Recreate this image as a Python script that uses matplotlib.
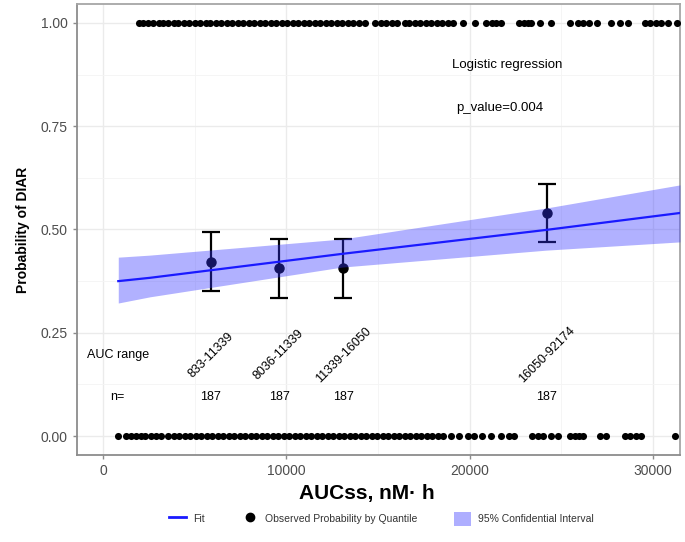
import matplotlib
matplotlib.use("Agg")
import matplotlib.pyplot as plt
from matplotlib.lines import Line2D
from matplotlib.patches import Patch

plt.rcParams['font.family'] = ['Liberation Sans', 'DejaVu Sans']

# Observed events (DIAR = 1) and non-events (DIAR = 0), AUCss positions
obs1_x = [1960, 2200, 2450, 2700, 3055, 3270, 3550, 3870,
          4090, 4400, 4700, 5000, 5300, 5620,
          5840, 6140, 6440, 6740, 7040, 7340, 7640, 7940, 8240, 8540, 8840,
          9140, 9440, 9740, 10040, 10340, 10640, 10940, 11240, 11540, 11840,
          12140, 12440, 12740, 13040, 13340, 13640, 13940, 14290,
          14840, 15140, 15440, 15740, 16040, 16470,
          16690, 16990, 17290, 17590, 17890, 18190, 18500, 18820,
          19090, 19640, 20290, 20890, 21200, 21450, 21710,
          22690, 22950, 23200, 23350, 23840, 24440,
          25470, 25910, 26200, 26500, 26950, 27710, 28200, 28640,
          29560, 29850, 30150, 30450, 30820, 31310]
obs0_x = [820, 1250, 1500, 1800, 2070, 2290, 2600, 2900, 3160,
          3550, 3850, 4150, 4450, 4750, 5050, 5350, 5650, 5950, 6250, 6550,
          6850, 7150, 7450, 7750, 8050, 8350, 8650, 8950, 9250, 9550, 9850,
          10150, 10450, 10750, 11050, 11350, 11650, 11950, 12250, 12550,
          12850, 13150, 13450, 13750, 14050, 14350, 14650, 14950,
          15250, 15550, 15850, 16150, 16450, 16750, 17050, 17350, 17650,
          17950, 18250, 18550, 18980,
          19420, 19910, 20240, 20670, 21160, 21710, 22150, 22420,
          23400, 23700, 24000, 24440, 24820,
          25470, 25750, 25950, 26180, 27110, 27440,
          28470, 28750, 29050, 29350, 31200]

# Quantile summaries
q_x = [5890, 9600, 13100, 24200]
q_p = [0.421, 0.407, 0.407, 0.540]
q_lo = [0.351, 0.334, 0.334, 0.470]
q_hi = [0.494, 0.477, 0.477, 0.610]
q_range = ["833-11339", "8036-11339", "11339-16050", "16050-92174"]
q_n = ["187", "187", "187", "187"]

# Fitted logistic curve with 95% CI
fit_x = [833, 2560, 13040, 24170, 31470]
fit_p = [0.375, 0.383, 0.441, 0.499, 0.540]
fit_lo = [0.322, 0.337, 0.409, 0.450, 0.470]
fit_hi = [0.433, 0.438, 0.477, 0.552, 0.608]

fig = plt.figure(figsize=(6.85, 5.42), dpi=100)
ax = fig.add_axes([77/685, 1-455/542, (680-77)/685, (455-4)/542])

ax.set_xlim(-1418, 31470)
ax.set_ylim(-0.046, 1.046)
ax.set_xticks([0, 10000, 20000, 30000])
ax.set_xticks([5000, 15000, 25000], minor=True)
ax.set_yticks([0, 0.25, 0.5, 0.75, 1.0])
ax.set_yticks([0.125, 0.375, 0.625, 0.875], minor=True)
ax.set_yticklabels(["0.00", "0.25", "0.50", "0.75", "1.00"])
ax.grid(which='major', color='#ebebeb', linewidth=1.0, zorder=0)
ax.grid(which='minor', color='#f4f4f4', linewidth=0.6, zorder=0)
ax.set_axisbelow(True)
ax.tick_params(which='minor', length=0)
ax.tick_params(which='major', length=3, width=1, color='#8c8c8c',
               labelcolor='#4d4d4d', labelsize=10)
for side, sp in ax.spines.items():
    sp.set_color('#a6a6a6' if side in ('top', 'right') else '#8c8c8c')
    sp.set_linewidth(1.3)

ax.scatter(obs1_x, [1.0]*len(obs1_x), s=26, color='black', linewidths=0, zorder=3)
ax.scatter(obs0_x, [0.0]*len(obs0_x), s=26, color='black', linewidths=0, zorder=3)

ax.errorbar(q_x, q_p, yerr=[[p - l for p, l in zip(q_p, q_lo)],
                            [h - p for p, h in zip(q_p, q_hi)]],
            fmt='o', color='black', markersize=6.5, elinewidth=1.6,
            capsize=6.5, capthick=1.6, zorder=3)

ax.fill_between(fit_x, fit_lo, fit_hi, color='#3333ff', alpha=0.38,
                linewidth=0, zorder=4)
ax.plot(fit_x, fit_p, color='#1a1aff', linewidth=1.6, zorder=5)

ax.text(800, 0.196, "AUC range", fontsize=9, ha='center', va='center')
ax.text(800, 0.094, "n=", fontsize=9, ha='center', va='center')
for x, r, n in zip(q_x, q_range, q_n):
    ax.text(x, 0.196, r, fontsize=9, ha='center', va='center',
            rotation=45, rotation_mode='anchor')
    ax.text(x, 0.094, n, fontsize=9, ha='center', va='center')

ax.text(22040, 0.898, "Logistic regression", fontsize=9.5, ha='center', va='center')
ax.text(21660, 0.794, "p_value=0.004", fontsize=9.5, ha='center', va='center')

ax.set_ylabel("Probability of DIAR", fontsize=10, fontweight='bold', labelpad=8)
fig.text(367/685, 1-493/542, "AUCss, nM\u00b7 h", fontsize=15,
         fontweight='bold', ha='center', va='center')

handles = [Line2D([0], [0], color='#1a1aff', linewidth=2),
           Line2D([0], [0], marker='o', color='black', linestyle='none', markersize=6),
           Patch(facecolor='#aeaeff', edgecolor='none')]
labels = ["Fit", "Observed Probability by Quantile", "95% Confidential Interval"]
fig.legend(handles, labels, loc='center', bbox_to_anchor=(381/685, 1-519/542),
           ncol=3, frameon=False, fontsize=7.5, handlelength=1.7,
           handleheight=1.7, columnspacing=3.5, handletextpad=0.6,
           labelcolor='#333333')

fig.savefig("out.png", dpi=100)
